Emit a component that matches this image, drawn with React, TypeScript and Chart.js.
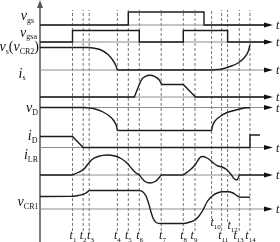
import React, { useEffect, useRef } from "react";
import { Chart, registerables } from "chart.js";

Chart.register(...registerables);

// ---------------- data ----------------
// switching instants t1..t14 (time units from the origin)
const tickLabels = ["1", "2", "3", "4", "5", "6", "7", "8", "9", "10", "11", "12", "13", "14"];
const tickTimes = [32.5, 43.2, 49.2, 77.4, 88.3, 99.3, 121.2, 143.3, 155, 171.6, 181.6, 187.6, 199.3, 210];
const tEnd = 226;

// waveforms: segments of [time, level]; curve=true -> smooth (monotone) segment
type Seg = { curve: boolean; pts: number[][] };

const vgsWave: Seg[] = [
  { curve: false, pts: [[0, 0], [88.3, 0], [88.3, 13], [164, 13], [164, 0], [tEnd, 0]] },
];
const vgsaWave: Seg[] = [
  { curve: false, pts: [[0, 0], [32.5, 0], [32.5, 11.5], [99.3, 11.5], [99.3, 0], [143.3, 0], [143.3, 11.5], [187.6, 11.5], [187.6, 0], [tEnd, 0]] },
];
const vsWave: Seg[] = [
  { curve: false, pts: [[0, 22.5], [49.2, 22.5]] },
  { curve: true, pts: [[49.2, 22.5], [60, 20.5], [68, 15.5], [73, 9.5], [76, 4], [77.4, 0]] },
  { curve: false, pts: [[77.4, 0], [171.6, 0]] },
  { curve: true, pts: [[171.6, 0], [182, 1], [190, 3.5], [198, 7], [204, 12], [208, 18], [210, 25]] },
];
const isWave: Seg[] = [
  { curve: false, pts: [[0, 0], [94.3, 0], [99.3, 12.5]] },
  { curve: true, pts: [[99.3, 12.5], [101.7, 17.7], [105, 20.3], [110, 21.7], [115, 20.3], [119.3, 17], [121.7, 12.5]] },
  { curve: false, pts: [[121.7, 12.5], [143.3, 12.5], [155.5, 0], [tEnd, 0]] },
];
const vDWave: Seg[] = [
  { curve: false, pts: [[0, 0], [45, 0]] },
  { curve: true, pts: [[45, 0], [55, -1.5], [63, -4.5], [70, -9], [74, -13.5], [76.5, -18.5], [77.4, -23]] },
  { curve: false, pts: [[77.4, -23], [171.6, -23]] },
  { curve: true, pts: [[171.6, -23], [172.5, -18.5], [175, -13.5], [180, -9], [186, -5.5], [194, -3], [202, -1], [210, 0]] },
];
const iDWave: Seg[] = [
  { curve: false, pts: [[0, 11], [32.5, 11], [43.2, 0], [210, 0], [210, 12.5], [220, 12.5]] },
];
const iLRWave: Seg[] = [
  { curve: false, pts: [[0, 0], [32.5, 0]] },
  { curve: true, pts: [[32.5, 0], [38, 2.5], [44, 6], [48, 11], [52, 15.5], [58, 18.5], [67, 20], [75, 19], [81, 16.5], [87, 12], [92, 6], [96, 2], [99.3, 0], [102, -3.5], [105, -6.5], [110, -8], [115, -6.5], [118.5, -3.5], [121.2, 0]] },
  { curve: false, pts: [[121.2, 0], [143.3, 0]] },
  { curve: true, pts: [[143.3, 0], [150, 5], [155, 10], [160, 17.5], [163, 18.5], [167, 17], [170, 15], [174, 11.5], [178, 9], [182, 8], [186.5, 5.5], [191.5, 0], [194, -3.5], [196.5, -5], [198, -3.5], [199.3, 0]] },
  { curve: false, pts: [[199.3, 0], [tEnd, 0]] },
];
const vCR1Wave: Seg[] = [
  { curve: true, pts: [[0, 12.5], [30, 12.6], [37, 13.2], [42, 14.3], [46, 16], [49.2, 18.5]] },
  { curve: true, pts: [[49.2, 18.5], [99.3, 18.5], [103, 17], [106, 13], [108.5, 6], [111, -3], [113, -9], [116, -13.5], [120, -14.5], [143.3, -14.5], [150, -13], [155, -11], [159, -7], [163, -1], [167, 7], [171.6, 12.5], [176, 15.5], [182, 17.3], [188, 17.3], [193, 16], [196, 14], [199.3, 11.8]] },
  { curve: false, pts: [[199.3, 11.8], [210, 11.8]] },
];

const waves: Seg[][] = [vgsWave, vgsaWave, vsWave, isWave, vDWave, iDWave, iLRWave, vCR1Wave];

// ---------------- layout ----------------
const W = 280;
const H = 242;
const rowAxisY = [25, 42, 70, 97, 107.5, 147.5, 175, 209]; // pixel rows of the time axes
const base = (py: number) => H - py;

type Part = [string, "i" | "r" | "s"];
const rowLabels: { parts: Part[]; right: number; baseline: number }[] = [
  { parts: [["v", "i"], ["gs", "s"]], right: 34, baseline: 20 },
  { parts: [["v", "i"], ["gsa", "s"]], right: 37, baseline: 36.5 },
  { parts: [["v", "i"], ["s", "s"], ["(", "r"], ["v", "i"], ["CR2", "s"], [")", "r"]], right: 39, baseline: 51 },
  { parts: [["i", "i"], ["s", "s"]], right: 25.5, baseline: 77.5 },
  { parts: [["v", "i"], ["D", "s"]], right: 38, baseline: 112 },
  { parts: [["i", "i"], ["D", "s"]], right: 37.5, baseline: 140 },
  { parts: [["i", "i"], ["LR", "s"]], right: 38, baseline: 159 },
  { parts: [["v", "i"], ["CR1", "s"]], right: 38.5, baseline: 206 },
];
const tickLabelDx = [0.5, 0, 1.3, 0, 0, 0.3, 1.3, 0.4, -1, 4, 1.7, 5, -0.6, 0.5];
const tickLabelY = [239, 239, 239, 239, 239, 239, 239, 239, 239, 226, 239, 229, 239, 239];
const dashBottomY = [231, 231, 231, 231, 231, 231, 231, 231, 231, 219, 231, 222, 231, 231];
const dashTopY = 10;

const SERIF = '"Liberation Serif", "Times New Roman", serif';

function drawRich(ctx: CanvasRenderingContext2D, parts: Part[], x: number, y: number, align: string, main: number, sub: number) {
  const fontFor = (k: string) =>
    k === "i" ? `italic ${main}px ${SERIF}` : k === "r" ? `${main}px ${SERIF}` : `${sub}px ${SERIF}`;
  let w = 0;
  for (const [s, k] of parts) {
    ctx.font = fontFor(k);
    w += ctx.measureText(s).width;
  }
  let cx = align === "right" ? x - w : align === "center" ? x - w / 2 : x;
  for (const [s, k] of parts) {
    ctx.font = fontFor(k);
    ctx.fillText(s, cx, k === "s" ? y + 2.5 : y);
    cx += ctx.measureText(s).width;
  }
}

const overlayPlugin = {
  id: "overlay",
  afterDatasetsDraw(chart: any) {
    const ctx: CanvasRenderingContext2D = chart.ctx;
    const xs = chart.scales.x;
    ctx.save();
    ctx.textBaseline = "alphabetic";
    // vertical axis arrow head
    const x0 = xs.getPixelForValue(0);
    ctx.fillStyle = "#555";
    ctx.beginPath();
    ctx.moveTo(x0, 0);
    ctx.lineTo(x0 - 3, 8);
    ctx.lineTo(x0 + 3, 8);
    ctx.closePath();
    ctx.fill();
    // horizontal axis arrow heads + "t"
    const tip = xs.getPixelForValue(tEnd + 7);
    for (const py of rowAxisY) {
      ctx.fillStyle = "#111";
      ctx.beginPath();
      ctx.moveTo(tip, py);
      ctx.lineTo(tip - 9, py - 2.6);
      ctx.lineTo(tip - 9, py + 2.6);
      ctx.closePath();
      ctx.fill();
      ctx.font = `italic 12px ${SERIF}`;
      ctx.fillText("t", tip + 3, py + 4);
    }
    // row labels
    ctx.fillStyle = "#111";
    for (const l of rowLabels) drawRich(ctx, l.parts, l.right, l.baseline, "right", 14, 8);
    // tick labels
    tickTimes.forEach((t, i) => {
      const px = xs.getPixelForValue(t) + tickLabelDx[i];
      drawRich(ctx, [["t", "i"], [tickLabels[i], "s"]], px, tickLabelY[i], "center", 12, 7);
    });
    ctx.restore();
  },
};

export default function App() {
  const ref = useRef<HTMLCanvasElement | null>(null);
  useEffect(() => {
    if (!ref.current) return;
    const datasets: any[] = [];
    // dashed instants
    tickTimes.forEach((t, i) => {
      datasets.push({
        data: [{ x: t, y: base(dashBottomY[i]) }, { x: t, y: base(dashTopY) }],
        borderColor: "#666",
        borderWidth: 0.9,
        borderDash: [3, 2],
        pointRadius: 0,
        fill: false,
        tension: 0,
        order: 3,
      });
    });
    // horizontal time axes
    rowAxisY.forEach((py) => {
      datasets.push({
        data: [{ x: 0, y: base(py) }, { x: tEnd, y: base(py) }],
        borderColor: "#8c8c8c",
        borderWidth: 1,
        pointRadius: 0,
        fill: false,
        tension: 0,
        order: 2,
      });
    });
    // vertical axis
    datasets.push({
      data: [{ x: 0, y: 0 }, { x: 0, y: base(6) }],
      borderColor: "#707070",
      borderWidth: 1.8,
      pointRadius: 0,
      fill: false,
      tension: 0,
      order: 2,
    });
    // waveforms
    waves.forEach((wave, r) => {
      const b = base(rowAxisY[r]);
      for (const s of wave) {
        datasets.push({
          data: s.pts.map(([t, v]) => ({ x: t, y: b + v })),
          borderColor: "#1c1c1c",
          borderWidth: 1.4,
          pointRadius: 0,
          fill: false,
          tension: 0,
          cubicInterpolationMode: s.curve ? "monotone" : "default",
          order: 0,
        });
      }
    });
    const chart = new Chart(ref.current, {
      type: "line",
      data: { datasets },
      options: {
        animation: false,
        responsive: false,
        devicePixelRatio: 1,
        events: [],
        layout: { padding: 0 },
        scales: {
          x: { type: "linear", min: -40, max: W - 40, display: false },
          y: { type: "linear", min: 0, max: H, display: false },
        },
        plugins: { legend: { display: false }, tooltip: { enabled: false } },
        elements: { point: { radius: 0 } },
      },
      plugins: [overlayPlugin],
    } as any);
    return () => chart.destroy();
  }, []);
  return (
    <div style={{ position: "absolute", left: 0, top: 0, width: W, height: H, background: "#fff" }}>
      <canvas ref={ref} width={W} height={H} style={{ display: "block" }} />
    </div>
  );
}
